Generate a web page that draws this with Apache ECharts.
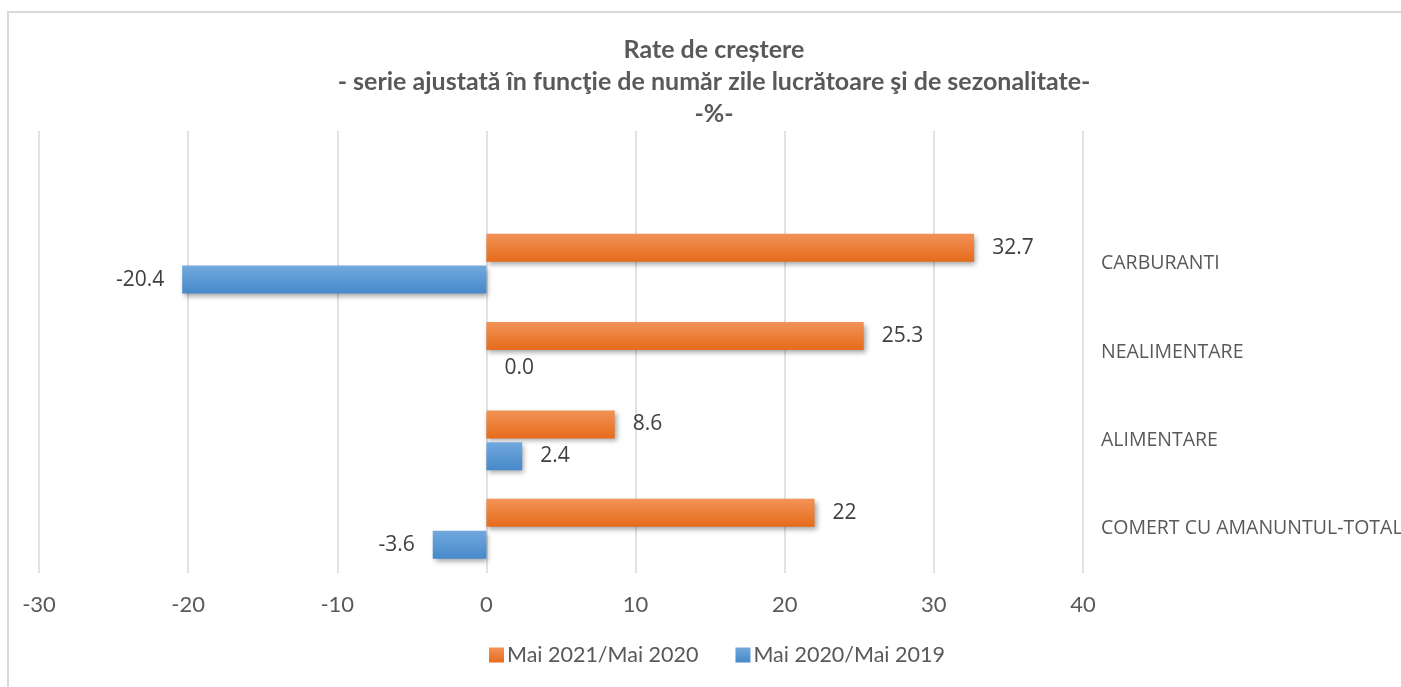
<!DOCTYPE html>
<html>
<head>
<meta charset="utf-8">
<script src="https://cdn.jsdelivr.net/npm/echarts@6/dist/echarts.min.js"></script>
<style>
  html, body { margin: 0; padding: 0; background: #ffffff; }
  #chart { width: 1401px; height: 687px; }
</style>
</head>
<body>
<div id="chart"></div>
<script>
// Categories (bottom to top); the top slot is empty as in the reference
const categories = ['COMERT CU AMANUNTUL-TOTAL', 'ALIMENTARE', 'NEALIMENTARE', 'CARBURANTI', ''];
const seriesNames = ['Mai 2021/Mai 2020', 'Mai 2020/Mai 2019'];
const values2021 = [22, 8.6, 25.3, 32.7, null];
const values2020 = [-3.6, 2.4, 0.0, -20.4, null];
const labels2021 = ['22', '8.6', '25.3', '32.7', ''];
const labels2020 = ['-3.6', '2.4', '0.0', '-20.4', ''];
const xTicks = [-30, -20, -10, 0, 10, 20, 30, 40];
const titleLines = ['Rate de creștere', '- serie ajustată în funcţie de număr zile lucrătoare şi de sezonalitate-', '-%-'];

const chart = echarts.init(document.getElementById('chart'), null, { renderer: 'canvas' });

function makeData(vals, labs) {
  return vals.map((v, i) => ({
    value: v,
    label: { position: (v !== null && v < 0) ? 'left' : 'right', formatter: labs[i] }
  }));
}

const orangeGrad = new echarts.graphic.LinearGradient(0, 0, 0, 1, [
  { offset: 0, color: '#F39357' }, { offset: 1, color: '#E56B1B' }
]);
const blueGrad = new echarts.graphic.LinearGradient(0, 0, 0, 1, [
  { offset: 0, color: '#72A9DE' }, { offset: 1, color: '#4688CA' }
]);

const labelStyle = {
  show: true,
  distance: 18,
  color: '#404040',
  fontFamily: 'Open Sans',
  fontSize: 21
};

const option = {
  backgroundColor: '#ffffff',
  animation: false,
  color: ['#ED7D31', '#5B9BD5'],
  graphic: [{
    type: 'rect',
    shape: { x: 8, y: 12, width: 1420, height: 720 },
    style: { fill: 'none', stroke: '#d9d9d9', lineWidth: 2 },
    silent: true,
    z: -10
  }],
  title: {
    text: titleLines.join('\n'),
    left: 709,
    textAlign: 'center',
    top: 29,
    textStyle: {
      fontFamily: 'Lato',
      fontWeight: 'bold',
      fontSize: 25,
      lineHeight: 32,
      color: '#595959'
    }
  },
  legend: {
    data: seriesNames,
    bottom: 16,
    left: 484,
    itemWidth: 15,
    itemHeight: 15,
    itemGap: 37,
    icon: 'rect',
    textStyle: { fontFamily: 'Lato', fontSize: 21.5, color: '#595959', padding: [0, 0, 0, -2] }
  },
  grid: { left: 39, right: 318, top: 131, bottom: 114, containLabel: false, outerBoundsMode: 'none' },
  xAxis: {
    type: 'value',
    min: xTicks[0],
    max: xTicks[xTicks.length - 1],
    interval: 10,
    axisLine: { show: false },
    axisTick: { show: false },
    splitLine: { show: true, lineStyle: { color: '#d9d9d9', width: 1.5 } },
    axisLabel: { fontFamily: 'Lato', fontSize: 22, color: '#595959', margin: 21 }
  },
  yAxis: {
    type: 'category',
    data: categories,
    position: 'right',
    axisLine: { show: false },
    axisTick: { show: false },
    splitLine: { show: false },
    axisLabel: { align: 'left', margin: 18, fontFamily: 'Open Sans', fontSize: 19.5, color: '#595959' }
  },
  series: [
    {
      name: seriesNames[0],
      type: 'bar',
      data: makeData(values2021, labels2021),
      barWidth: 28,
      barGap: '14%',
      itemStyle: {
        color: orangeGrad,
        shadowColor: 'rgba(0,0,0,0.35)', shadowBlur: 5, shadowOffsetX: 2, shadowOffsetY: 3
      },
      label: labelStyle
    },
    {
      name: seriesNames[1],
      type: 'bar',
      data: makeData(values2020, labels2020),
      barWidth: 28,
      barGap: '14%',
      itemStyle: {
        color: blueGrad,
        shadowColor: 'rgba(0,0,0,0.35)', shadowBlur: 5, shadowOffsetX: 2, shadowOffsetY: 3
      },
      label: labelStyle
    }
  ]
};
chart.setOption(option);
</script>
</body>
</html>
